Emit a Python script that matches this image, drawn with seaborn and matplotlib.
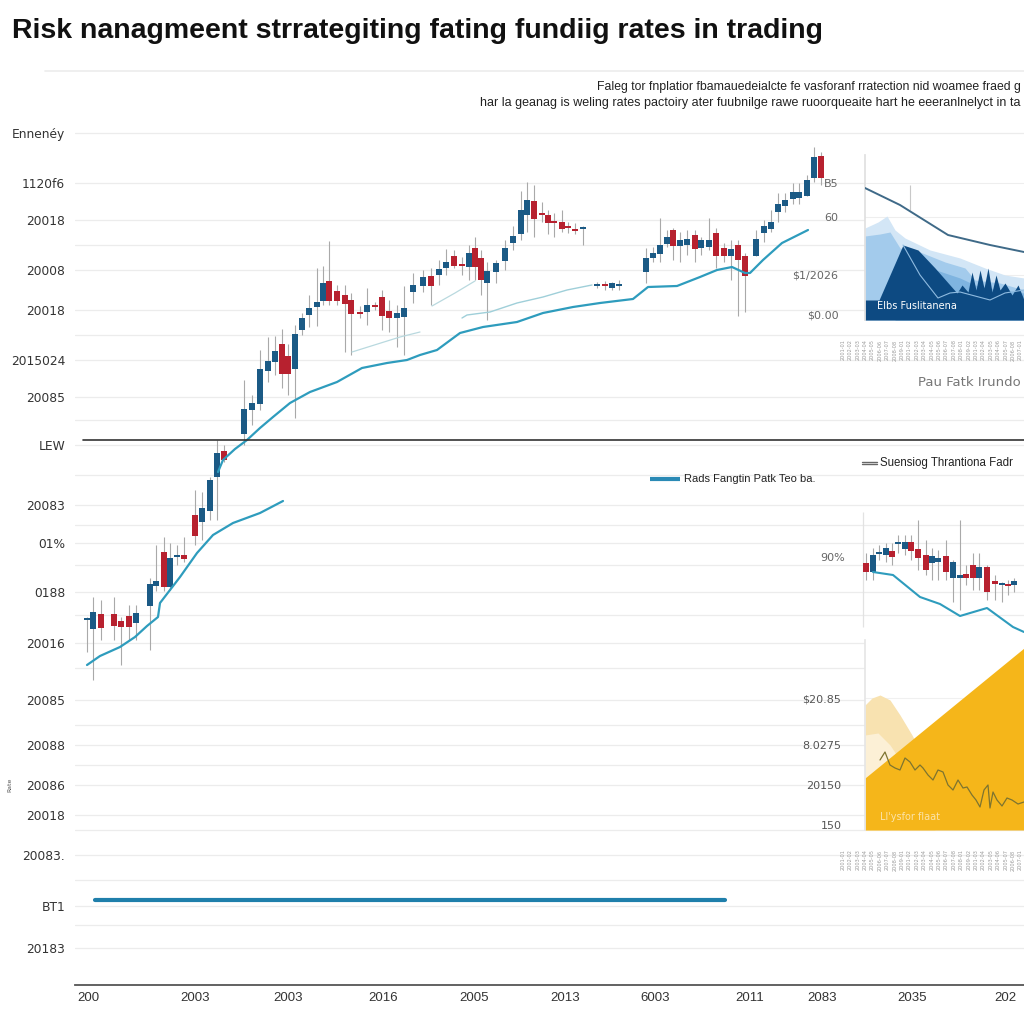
import numpy as np
import pandas as pd
import matplotlib
matplotlib.use("Agg")
import matplotlib.pyplot as plt
import seaborn as sns

# ---------------- data ----------------
title = "Risk nanagmeent strrategiting fating fundiig rates in trading"
subtitle_1 = "Faleg tor fnplatior fbamauedeialcte fe vasforanf rratection nid woamee fraed g"
subtitle_2 = "har la geanag is weling rates pactoiry ater fuubnilge rawe ruoorqueaite hart he eeeranlnelyct in ta"

y_tick_values = [891, 841, 804, 754, 714, 664, 627, 579, 519, 481, 432, 381, 324, 279, 239, 209, 169, 118, 76]
y_tick_labels = ["Ennenéy", "1120f6", "20018", "20008", "20018", "2015024", "20085", "LEW", "20083",
                 "01%", "0188", "20016", "20085", "20088", "20086", "20018", "20083.", "BT1", "20183"]
y_minor_grid = [779, 689, 604, 549, 499, 459, 409, 356, 299, 259, 194, 144, 99]
x_tick_values = [88, 195, 288, 383, 474, 565, 655, 750, 822, 912, 1005]
x_tick_labels = ["200", "2003", "2003", "2016", "2005", "2013", "6003", "2011", "2083", "2035", "202"]

# main candles: day, open, close, high, low
candle_day = [87, 93, 101, 114, 121, 129, 136, 150, 156, 164, 170, 177, 184, 195, 202, 210, 217, 224,
              244, 252, 260, 268, 275, 282, 288, 295, 302, 309, 317, 323, 329, 337, 345, 351, 360, 367,
              375, 382, 389, 397, 404, 413, 423, 431, 439, 446, 454, 462, 469, 475, 481, 487, 496, 505,
              513, 521, 527, 534, 542, 548, 554, 562, 568, 575, 583, 597, 605, 612, 619, 646, 653, 660,
              667, 673, 680, 687, 695, 701, 709, 716, 724, 731, 738, 745, 756, 764, 771, 778, 785, 793,
              799, 807, 814, 821]
candle_open = [404, 395, 410, 410, 403, 408, 401, 418, 438, 472, 437, 467, 469, 509, 502, 513, 547, 573,
               590, 614, 620, 653, 662, 680, 668, 655, 694, 709, 717, 723, 743, 733, 729, 724, 712, 712,
               719, 727, 713, 706, 707, 732, 738, 748, 749, 756, 768, 759, 757, 776, 766, 741, 752, 763,
               781, 790, 809, 823, 811, 809, 802, 802, 797, 795, 795, 738, 740, 736, 738, 752, 766, 770,
               780, 794, 778, 779, 789, 776, 777, 791, 776, 768, 779, 768, 768, 791, 795, 812, 818, 825,
               826, 828, 846, 868]
candle_close = [405, 412, 396, 398, 397, 397, 411, 440, 443, 437, 466, 469, 465, 488, 516, 544, 571, 564,
                615, 621, 655, 663, 673, 650, 650, 690, 706, 716, 722, 741, 723, 723, 720, 710, 710, 719,
                717, 708, 706, 711, 716, 739, 747, 738, 755, 762, 758, 758, 771, 757, 744, 753, 761, 776,
                788, 814, 824, 805, 809, 801, 801, 795, 796, 793, 797, 740, 738, 741, 740, 766, 771, 779,
                787, 778, 784, 785, 775, 784, 784, 768, 768, 775, 764, 748, 785, 798, 802, 820, 824, 832,
                832, 844, 867, 846]
candle_high = [407, 427, 424, 427, 407, 419, 419, 446, 479, 487, 481, 479, 487, 534, 532, 547, 584, 579,
               644, 629, 674, 687, 688, 695, 680, 699, 711, 729, 756, 758, 783, 739, 739, 731, 718, 736,
               722, 734, 724, 719, 738, 751, 754, 756, 764, 775, 774, 767, 779, 787, 774, 762, 764, 784,
               798, 833, 842, 839, 822, 814, 811, 814, 802, 801, 798, 742, 743, 742, 744, 776, 777, 806,
               794, 796, 792, 794, 794, 787, 806, 796, 781, 784, 784, 771, 794, 804, 814, 831, 831, 841,
               841, 849, 877, 872]
candle_low = [372, 344, 384, 384, 359, 384, 384, 374, 433, 433, 434, 459, 462, 479, 484, 504, 504, 562,
              579, 599, 614, 642, 649, 636, 629, 606, 689, 697, 698, 719, 719, 719, 672, 669, 706, 699,
              714, 694, 692, 677, 669, 721, 732, 719, 739, 749, 756, 749, 744, 744, 729, 704, 741, 754,
              774, 784, 792, 787, 802, 790, 787, 792, 791, 790, 779, 736, 734, 734, 734, 741, 762, 762,
              777, 764, 762, 769, 762, 769, 774, 756, 762, 744, 708, 712, 768, 782, 792, 802, 812, 820,
              820, 828, 842, 839]

# right-hand candle panel
rc_day = [866, 873, 879, 886, 892, 898, 905, 911, 918, 926, 932, 938, 946, 953, 960, 966, 973, 979, 987,
          995, 1002, 1008, 1014]
rc_open = [461, 452, 470, 469, 473, 480, 475, 482, 475, 469, 461, 462, 468, 446, 446, 450, 459, 446, 457,
           443, 439, 440, 439]
rc_close = [452, 469, 472, 476, 467, 482, 482, 473, 466, 454, 468, 466, 452, 462, 449, 446, 446, 457, 432,
            440, 440, 438, 443]
rc_high = [471, 476, 479, 481, 481, 489, 489, 489, 504, 484, 476, 474, 484, 464, 504, 459, 471, 471, 459,
           449, 442, 444, 446]
rc_low = [444, 444, 464, 462, 459, 471, 469, 464, 454, 449, 444, 444, 444, 422, 414, 439, 434, 434, 424,
          424, 422, 429, 432]

# moving-average style lines
ma_a_day = [87, 100, 120, 135, 147, 158, 160, 170, 180, 197, 213, 233, 260, 283]
ma_a_val = [359, 368, 377, 387, 398, 407, 421, 434, 447, 471, 489, 501, 511, 523]
ma_b_day = [218, 223, 235, 247, 260, 273, 290, 310, 337, 362, 387, 407, 420, 437, 460, 483, 517, 543, 573,
            600, 633, 648, 677, 700, 717, 732, 745, 750, 763, 782, 808]
ma_b_val = [552, 564, 575, 584, 596, 607, 621, 632, 642, 656, 661, 664, 669, 674, 691, 697, 702, 711, 717,
            721, 725, 737, 738, 747, 754, 757, 751, 751, 764, 781, 794]
faint_1_day = [352, 400, 420]
faint_1_val = [672, 687, 692]
faint_2_day = [432, 455, 475]
faint_2_val = [718, 731, 743]
faint_3_day = [462, 467, 490, 517, 543, 567, 592]
faint_3_val = [706, 709, 712, 721, 727, 734, 739]
rc_line_day = [873, 893, 920, 940, 960, 987, 1013, 1024]
rc_line_val = [452, 449, 427, 420, 408, 416, 397, 392]
flat_day = [95, 725]
flat_val = [124, 124]

legend_1 = "Rads Fangtin Patk Teo ba."
legend_2 = "Suensiog Thrantiona Fadr"

# blue area panel
blue_ticks = [841, 807, 749, 709]
blue_tick_labels = ["B5", "60", "$1/2026", "$0.00"]
blue_pale_x = [865, 878, 887, 895, 905, 930, 960, 985, 1005, 1024]
blue_pale_y = [796, 802, 808, 794, 786, 774, 766, 756, 749, 746]
blue_light_x = [865, 880, 890, 900, 920, 945, 965, 975, 1000, 1024]
blue_light_y = [788, 790, 792, 776, 772, 762, 756, 744, 741, 734]
blue_mid_x = [895, 905, 930, 960, 975, 990, 1024]
blue_mid_y = [740, 754, 756, 746, 739, 736, 731]
blue_navy_x = [865, 879, 903, 918, 935, 957, 962, 968, 972, 976, 980, 984, 988, 992, 996, 1000, 1005,
               1012, 1018, 1024]
blue_navy_y = [724, 724, 779, 774, 756, 731, 739, 732, 752, 734, 754, 736, 756, 732, 749, 734, 741, 729,
               739, 724]
blue_line_x = [865, 900, 948, 990, 1024]
blue_line_y = [836, 819, 789, 779, 772]
blue_thin_x = [903, 920, 938, 950, 960, 975, 990, 1005, 1024]
blue_thin_y = [779, 749, 726, 731, 732, 728, 724, 731, 734]
blue_label = "EIbs Fuslitanena"
blue_xlabel = "Pau Fatk Irundo"

# yellow area panel
yel_ticks = [326, 279, 239, 199]
yel_tick_labels = ["$20.85", "8.0275", "20150", "150"]
yel_pale_x = [865, 872, 880, 890, 900, 912, 925, 935]
yel_pale_y = [319, 326, 329, 324, 309, 289, 264, 249]
yel_light_x = [865, 878, 890, 900]
yel_light_y = [289, 291, 279, 264]
yel_main_x = [865, 1024]
yel_main_y = [246, 376]
yel_line_x = [880, 885, 890, 895, 900, 905, 910, 915, 920, 923, 928, 933, 938, 943, 948, 953, 958, 963,
              967, 972, 976, 980, 984, 988, 990, 993, 997, 1002, 1007, 1012, 1018, 1024]
yel_line_y = [264, 272, 259, 256, 254, 266, 262, 254, 259, 256, 249, 244, 254, 252, 239, 234, 244, 236,
              237, 229, 224, 217, 234, 239, 216, 232, 224, 218, 226, 224, 220, 222]
yel_label = "Ll'ysfor flaat"
small_date_labels = [f"20{(i % 9) + 1:02d}-0{(i % 8) + 1}" for i in range(25)]

# ---------------- style ----------------
sns.set_theme(style="white")
plt.rcParams["font.family"] = ["DejaVu Sans"]
NARROW = ["Liberation Sans Narrow", "Liberation Sans", "DejaVu Sans"]
BLUE = "#1b5a85"
RED = "#b7212f"
TEAL = "#2e9cbd"
W = 1024.0


def fx(px):
    return px / W


def fy(py):
    return 1 - py / W


fig = plt.figure(figsize=(10.24, 10.24), dpi=100)
fig.patch.set_facecolor("white")

# ---------------- main axes ----------------
ax = fig.add_axes([fx(75), fy(985), fx(1024) - fx(75), fy(125) - fy(985)])
ax.set_xlim(75, 1024)
ax.set_ylim(1024 - 985, 1024 - 125)
ax.set_facecolor("white")
for s in ["top", "right", "left"]:
    ax.spines[s].set_visible(False)
ax.spines["bottom"].set_color("#555555")
ax.spines["bottom"].set_linewidth(1.3)
ax.set_yticks(y_tick_values)
ax.set_yticklabels(y_tick_labels, fontsize=8.8, color="#333333")
ax.set_yticks(y_minor_grid, minor=True)
ax.set_xticks(x_tick_values)
ax.set_xticklabels(x_tick_labels, fontsize=9.5, color="#333333", family=NARROW)
ax.tick_params(axis="both", which="both", length=0)
ax.tick_params(axis="y", pad=7)
ax.tick_params(axis="x", pad=5)
ax.grid(axis="y", which="both", color="#ececec", lw=0.9)
ax.grid(axis="x", visible=False)
ax.set_axisbelow(True)


def draw_candles(a, d, o, c, h, l, width=6):
    d = np.asarray(d); o = np.asarray(o); c = np.asarray(c); h = np.asarray(h); l = np.asarray(l)
    up = c >= o
    a.vlines(d, l, h, color="#a9a9a9", lw=0.8, zorder=2)
    body = np.maximum(np.abs(c - o), 1.6)
    bottom = np.minimum(o, c)
    a.bar(d[up], body[up], bottom=bottom[up], width=width, color=BLUE, zorder=3, linewidth=0)
    a.bar(d[~up], body[~up], bottom=bottom[~up], width=width, color=RED, zorder=3, linewidth=0)


draw_candles(ax, candle_day, candle_open, candle_close, candle_high, candle_low)
draw_candles(ax, rc_day, rc_open, rc_close, rc_high, rc_low)


def line(a, x, y, color, lw, z=4):
    df = pd.DataFrame({"day": x, "price": y})
    sns.lineplot(data=df, x="day", y="price", ax=a, color=color, lw=lw, sort=False,
                 estimator=None, zorder=z, legend=False)


line(ax, ma_a_day, ma_a_val, TEAL, 1.6)
line(ax, ma_b_day, ma_b_val, TEAL, 1.6)
line(ax, faint_1_day, faint_1_val, "#b9d9df", 0.9)
line(ax, faint_2_day, faint_2_val, "#b9d9df", 0.9)
line(ax, faint_3_day, faint_3_val, "#9fcfd9", 1.0)
line(ax, rc_line_day, rc_line_val, TEAL, 1.5)
line(ax, flat_day, flat_val, "#1f7fab", 3.0)
ax.axhline(584, xmin=(83 - 75) / 949, xmax=1, color="#333333", lw=1.2, zorder=5)
ax.vlines([863], 397, 512, color="#e2e2e2", lw=0.9, zorder=1)
ax.set_xlabel("")
ax.set_ylabel("")

# legends
ax.plot([650, 680], [545, 545], color="#2a8ab5", lw=3, solid_capstyle="butt", zorder=5)
ax.text(684, 545, legend_1, fontsize=8, family=NARROW, va="center", ha="left", color="#222222")
ax.plot([862, 877], [562, 562], color="#666666", lw=1.0, zorder=5)
ax.plot([862, 877], [560, 560], color="#666666", lw=1.0, zorder=5)
ax.text(880, 561, legend_2, fontsize=8.3, family=["Liberation Sans", "DejaVu Sans"], va="center",
        ha="left", color="#222222", clip_on=False)

# ---------------- blue area panel ----------------
ab = fig.add_axes([fx(865), fy(320), fx(1024) - fx(865), fy(155) - fy(320)])
ab.set_xlim(865, 1024)
ab.set_ylim(704, 869)
ab.set_facecolor("white")
for s in ["top", "right", "bottom"]:
    ab.spines[s].set_visible(False)
ab.spines["left"].set_color("#e0e0e0")
ab.set_xticks([])
ab.set_yticks(blue_ticks)
ab.set_yticklabels(blue_tick_labels, fontsize=8, color="#666666")
ab.tick_params(axis="y", length=0, pad=19)
ab.grid(axis="y", color="#eeeeee", lw=0.8)
ab.set_axisbelow(True)
ab.fill_between(blue_pale_x, blue_pale_y, 704, color="#d3e6f6", lw=0)
ab.fill_between(blue_light_x, blue_light_y, 704, color="#a3cbec", lw=0)
ab.fill_between(blue_mid_x, blue_mid_y, 704, color="#7fb4e0", lw=0)
ab.fill_between(blue_navy_x, blue_navy_y, 704, color="#0d4a82", lw=0)
line(ab, blue_line_x, blue_line_y, "#3f6a88", 1.4)
line(ab, blue_thin_x, blue_thin_y, "#8fbbe0", 0.8)
ab.vlines([910], 814, 839, color="#c8c8c8", lw=0.8)
ab.text(877, 718, blue_label, fontsize=7, color="white", va="center", ha="left")
ab.set_xlabel("")
ab.set_ylabel("")
fig.text(fx(1021), fy(382), blue_xlabel, fontsize=9.5, color="#777777", ha="right", va="center")

# ---------------- yellow area panel ----------------
ay = fig.add_axes([fx(865), fy(830), fx(1024) - fx(865), fy(640) - fy(830)])
ay.set_xlim(865, 1024)
ay.set_ylim(194, 384)
ay.set_facecolor("white")
for s in ["top", "right", "bottom"]:
    ay.spines[s].set_visible(False)
ay.spines["left"].set_color("#e6e6e6")
ay.set_xticks([])
ay.set_yticks(yel_ticks)
ay.set_yticklabels(yel_tick_labels, fontsize=8, color="#555555")
ay.tick_params(axis="y", length=0, pad=17)
ay.grid(axis="y", color="#f0f0f0", lw=0.8)
ay.set_axisbelow(True)
ay.fill_between(yel_pale_x, yel_pale_y, 194, color="#f8e2b0", lw=0)
ay.fill_between(yel_light_x, yel_light_y, 194, color="#fcf0d6", lw=0)
ay.fill_between(yel_main_x, yel_main_y, 194, color="#f5b61a", lw=0)
line(ay, yel_line_x, yel_line_y, "#7d7430", 0.9)
ay.text(880, 207, yel_label, fontsize=7, color="#fbe3a8", va="center", ha="left")
ay.set_xlabel("")
ay.set_ylabel("")

# tiny rotated date labels under the right panels
for i, lab in enumerate(small_date_labels):
    xp = 843 + i * 7.4
    for yp in (350, 860):
        fig.text(fx(xp), fy(yp), lab, fontsize=3.6, color="#9a9a9a", rotation=90,
                 ha="center", va="center")

fig.text(fx(845), fy(558), "90%", fontsize=8, color="#666666", ha="right", va="center")
fig.text(fx(10), fy(785), "Rate", fontsize=4.5, color="#555555", rotation=90, ha="center", va="center")

# ---------------- title & subtitle ----------------
fig.text(fx(12), fy(31), title, fontsize=20.5, fontweight="bold", family=NARROW, color="#111111",
         ha="left", va="center")
fig.add_artist(plt.Line2D([fx(45), 1.0], [fy(71), fy(71)], color="#ececec", lw=1.2))
fig.text(fx(1021), fy(87), subtitle_1, fontsize=8.8, family=NARROW, color="#222222", ha="right",
         va="center")
fig.text(fx(1021), fy(103), subtitle_2, fontsize=9.0, family=NARROW, color="#222222", ha="right",
         va="center")

fig.savefig("out.png", dpi=100, facecolor="white")
